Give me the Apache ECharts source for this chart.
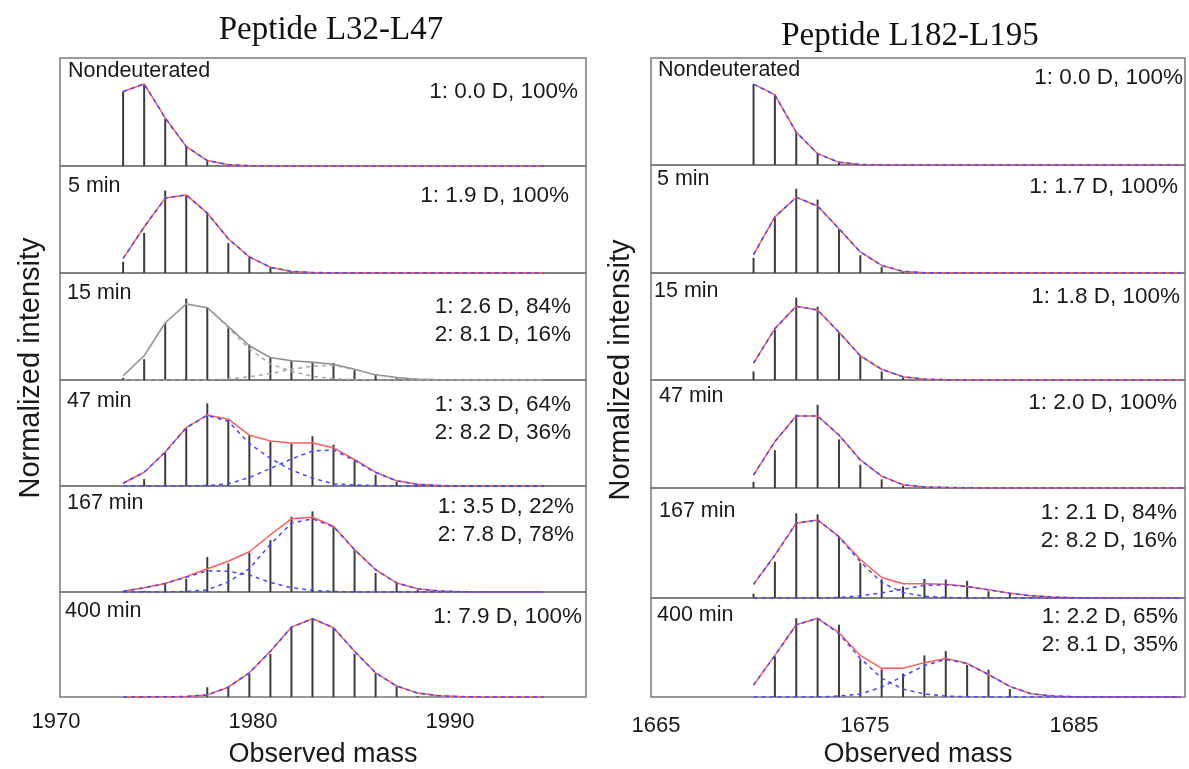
<!DOCTYPE html>
<html>
<head>
<meta charset="utf-8">
<script src="https://cdn.jsdelivr.net/npm/echarts@6/dist/echarts.min.js"></script>
<style>
html,body{margin:0;padding:0;background:#fff;}
#chart{width:1189px;height:769px;}
</style>
</head>
<body>
<div id="chart"></div>
<script>
// ---------------- DATA ----------------
const leftTitle = 'Peptide L32-L47';
const rightTitle = 'Peptide L182-L195';
const xAxisName = 'Observed mass';
const yAxisName = 'Normalized intensity';

const leftMass  = [1974,1975,1976,1977,1978,1979,1980,1981,1982,1983,1984,1985,1986,1987,1988,1989,1990,1991,1992,1993,1994];
const rightMass = [1670,1671,1672,1673,1674,1675,1676,1677,1678,1679,1680,1681,1682,1683,1684,1685,1686,1687,1688,1689,1690];
const leftTicks  = [1970, 1980, 1990];
const rightTicks = [1665, 1675, 1685];

const leftLabels  = ['Nondeuterated', '5 min', '15 min', '47 min', '167 min', '400 min'];
const rightLabels = ['Nondeuterated', '5 min', '15 min', '47 min', '167 min', '400 min'];
const leftFitText = [
  ['1: 0.0 D, 100%'],
  ['1: 1.9 D, 100%'],
  ['1: 2.6 D, 84%', '2: 8.1 D, 16%'],
  ['1: 3.3 D, 64%', '2: 8.2 D, 36%'],
  ['1: 3.5 D, 22%', '2: 7.8 D, 78%'],
  ['1: 7.9 D, 100%']
];
const rightFitText = [
  ['1: 0.0 D, 100%'],
  ['1: 1.7 D, 100%'],
  ['1: 1.8 D, 100%'],
  ['1: 2.0 D, 100%'],
  ['1: 2.1 D, 84%', '2: 8.2 D, 16%'],
  ['1: 2.2 D, 65%', '2: 8.1 D, 35%']
];

// Left peptide (L32-L47): measured sticks and fits
const L0_bars = [69, 76, 44, 18, 5, 1, 0, 0, 0, 0, 0, 0, 0, 0, 0, 0, 0, 0, 0, 0, 0];
const L0_fit  = [69, 76, 44.5, 18, 5, 1.2, 0.3, 0.1, 0, 0, 0, 0, 0, 0, 0, 0, 0, 0, 0, 0, 0];

const L1_bars = [10.5, 37.5, 77, 73, 56, 28, 16, 5, 1.5, 0.5, 0, 0, 0, 0, 0, 0, 0, 0, 0, 0, 0];
const L1_fit  = [13.6, 43, 70, 73, 56, 32, 15, 5.4, 1.5, 0.5, 0.2, 0, 0, 0, 0, 0, 0, 0, 0, 0, 0];

const L2_bars  = [2, 19.5, 53.5, 76, 67.5, 50, 33, 21, 18, 17, 15.7, 9.4, 4.7, 2.5, 0.8, 0, 0, 0, 0, 0, 0];
const L2_fit   = [4, 22.6, 53.5, 71, 67.6, 50, 32, 21, 18, 16.5, 14.8, 10, 4.8, 2.3, 0.8, 0.2, 0, 0, 0, 0, 0];
const L2_comp1 = [4, 22.6, 53.5, 71, 67.6, 49, 29, 15, 8, 3.5, 1.2, 0.3, 0.1, 0, 0, 0, 0, 0, 0, 0, 0];
const L2_comp2 = [0, 0, 0, 0, 0, 1, 3, 6, 10, 13, 13.6, 9.7, 4.7, 2.3, 0.8, 0.2, 0, 0, 0, 0, 0];

const L3_bars  = [0, 6.5, 32, 55, 78, 63, 48, 42, 40, 47, 39, 24, 10.6, 4, 1.6, 0.5, 0, 0, 0, 0, 0];
const L3_fit   = [2.6, 13, 32, 55, 67, 63, 48, 42.5, 40.5, 40.5, 36, 25, 13, 5, 1.6, 0.5, 0.1, 0, 0, 0, 0];
const L3_comp1 = [2.6, 13, 32, 55, 66.5, 61, 40, 26, 15, 7.5, 2, 1, 0.3, 0.1, 0, 0, 0, 0, 0, 0, 0];
const L3_comp2 = [0, 0, 0, 0, 0.5, 2, 8, 16.5, 25.5, 33, 34, 24, 12.7, 4.9, 1.6, 0.5, 0.1, 0, 0, 0, 0];

const L4_bars  = [0, 1, 8.5, 12.5, 33, 27, 37, 49, 71, 76, 62, 40, 18, 8.5, 2, 0.5, 0, 0, 0, 0, 0];
const L4_fit   = [0.6, 4, 8, 14.5, 22, 29, 38, 54, 69, 70.5, 62, 40, 21, 8.5, 3, 1, 0.3, 0, 0, 0, 0];
const L4_comp1 = [0.6, 4, 8, 14, 20, 19.5, 16, 9, 4, 1.5, 0.5, 0.1, 0, 0, 0, 0, 0, 0, 0, 0, 0];
const L4_comp2 = [0, 0, 0, 0.5, 2, 9.5, 22, 45, 65, 69, 61.5, 40, 21, 8.5, 3, 1, 0.3, 0, 0, 0, 0];

const L5_bars = [0, 0.3, 0.5, 0.5, 9.3, 10, 22, 41, 67, 75, 66, 41, 23, 10.5, 1, 0, 0, 0, 0, 0, 0];
const L5_fit  = [0, 0.1, 0.2, 0.5, 2, 9.3, 23, 43.5, 66.5, 74.5, 66, 43.5, 23, 10.5, 3.7, 1.2, 0.4, 0.1, 0, 0, 0];

// Right peptide (L182-L195)
const R0_bars = [75.6, 65.6, 30.6, 10.6, 2.5, 0.5, 0, 0, 0, 0, 0, 0, 0, 0, 0, 0, 0, 0, 0, 0, 0];
const R0_fit  = [75.6, 65.6, 30.6, 10.6, 2.5, 0.5, 0.1, 0, 0, 0, 0, 0, 0, 0, 0, 0, 0, 0, 0, 0, 0];

const R1_bars = [14, 51, 78, 68, 41, 16.5, 5.5, 1.5, 0.3, 0, 0, 0, 0, 0, 0, 0, 0, 0, 0, 0, 0];
const R1_fit  = [17, 52, 70, 62, 41, 19.5, 7, 1.5, 0.3, 0.1, 0, 0, 0, 0, 0, 0, 0, 0, 0, 0, 0];

const R2_bars = [8, 47, 77, 68.5, 44.6, 22.6, 8, 2.5, 0.8, 0.3, 0, 0, 0, 0, 0, 0, 0, 0, 0, 0, 0];
const R2_fit  = [15.7, 48, 69, 65.4, 44.6, 22.6, 10, 3, 0.8, 0.3, 0.1, 0, 0, 0, 0, 0, 0, 0, 0, 0, 0];

const R3_bars = [5.7, 35, 68, 77, 45, 21.6, 8, 2.5, 1.6, 1.2, 0.8, 0.3, 0, 0, 0, 0, 0, 0, 0, 0, 0];
const R3_fit  = [12, 43, 66.7, 66.7, 49, 26, 11, 3, 1, 0.5, 0.2, 0, 0, 0, 0, 0, 0, 0, 0, 0, 0];

const R4_bars  = [4, 33, 77, 76, 56, 32, 17, 10.5, 17.4, 16.8, 15.5, 6.2, 3.7, 0, 0, 0, 0, 0, 0, 0, 0];
const R4_fit   = [12.4, 39, 68, 71, 56, 35, 18.6, 13, 13, 12.4, 10.5, 7.5, 4.3, 2, 0.8, 0.3, 0.1, 0, 0, 0, 0];
const R4_comp1 = [12.4, 39, 68, 71, 55.5, 33, 14, 5, 1.5, 0.4, 0.1, 0, 0, 0, 0, 0, 0, 0, 0, 0, 0];
const R4_comp2 = [0, 0, 0, 0, 0.5, 2, 4.6, 8, 11.5, 12, 10.4, 7.5, 4.3, 2, 0.8, 0.3, 0.1, 0, 0, 0, 0];

const R5_bars  = [0, 41, 79.5, 79.5, 73, 38, 28, 23.7, 42, 46.4, 32.5, 27.6, 8, 0.5, 0, 0, 0, 0, 0, 0, 0];
const R5_fit   = [12, 42, 73, 79.5, 65, 42, 29, 29, 34.7, 39, 34, 22.7, 10.7, 3.2, 1, 0.3, 0, 0, 0, 0, 0];
const R5_comp1 = [12, 42, 73, 79.5, 64, 39, 19, 8, 3, 1, 0.3, 0, 0, 0, 0, 0, 0, 0, 0, 0, 0];
const R5_comp2 = [0, 0, 0, 0, 1, 3, 10, 21, 31.7, 38, 33.7, 22.7, 10.7, 3.2, 1, 0.3, 0, 0, 0, 0, 0];

// ---------------- LAYOUT ----------------
const leftBounds  = [58, 166, 273, 380, 486, 592, 700];
const rightBounds = [58, 165, 273, 380, 488, 598, 702];
const leftBox  = {left: 60, width: 526, min: 1971, max: 1996};
const rightBox = {left: 651, width: 534, min: 1665.2, max: 1690.2};
const leftLabelPos  = {x: [68, 68, 67, 67, 67, 65], y: [72, 187, 294, 402, 504, 612]};
const leftFitPos    = {x: [578, 569, 571, 571, 574, 582], y: [91, 195, 306, 404, 506, 616]};
const rightLabelPos = {x: [658, 657, 654, 659, 659, 657], y: [71, 180, 292, 397, 512, 616]};
const rightFitPos   = {x: [1183, 1178, 1180, 1177, 1177, 1178], y: [77, 186, 296, 402, 512, 616]};

const RED = '#ff5c5c', BLUE = '#4646ff', GRAY = '#8a8a8a', STICK = '#3c3c3c';
const SANS = 'Liberation Sans, Arial, sans-serif';

const leftPanels = [
  {bars: L0_bars, total: L0_fit, comps: [L0_fit]},
  {bars: L1_bars, total: L1_fit, comps: [L1_fit]},
  {bars: L2_bars, total: L2_fit, comps: [L2_comp1, L2_comp2], gray: true},
  {bars: L3_bars, total: L3_fit, comps: [L3_comp1, L3_comp2]},
  {bars: L4_bars, total: L4_fit, comps: [L4_comp1, L4_comp2]},
  {bars: L5_bars, total: L5_fit, comps: [L5_fit]}
];
const rightPanels = [
  {bars: R0_bars, total: R0_fit, comps: [R0_fit]},
  {bars: R1_bars, total: R1_fit, comps: [R1_fit]},
  {bars: R2_bars, total: R2_fit, comps: [R2_fit]},
  {bars: R3_bars, total: R3_fit, comps: [R3_fit]},
  {bars: R4_bars, total: R4_fit, comps: [R4_comp1, R4_comp2]},
  {bars: R5_bars, total: R5_fit, comps: [R5_comp1, R5_comp2]}
];

const pairs = (mass, arr) => mass.map((m, i) => [m, arr[i]]);

const grid = [], xAxis = [], yAxis = [], series = [], graphic = [];

function addSide(panels, bounds, box, mass, labels, labelPos, fitText, fitPos) {
  panels.forEach((p, i) => {
    const gi = grid.length;
    const isBottom = i === panels.length - 1;
    grid.push({
      left: box.left, width: box.width,
      top: bounds[i], height: bounds[i + 1] - bounds[i],
      show: true, borderColor: '#7a7a7a', borderWidth: 1.5, backgroundColor: 'transparent'
    });
    xAxis.push({
      type: 'value', gridIndex: gi, min: box.min, max: box.max,
      axisLine: {show: false}, axisTick: {show: false}, axisLabel: {show: false}, splitLine: {show: false},
      name: isBottom ? xAxisName : '', nameLocation: 'middle', nameGap: 44,
      nameTextStyle: {fontFamily: SANS, fontSize: 27, color: '#1a1a1a'}
    });
    yAxis.push({
      type: 'value', gridIndex: gi, min: 0, max: 100, show: false
    });
    series.push({
      type: 'bar', xAxisIndex: gi, yAxisIndex: gi, barWidth: 2,
      itemStyle: {color: STICK}, data: pairs(mass, p.bars), z: 2, silent: true
    });
    series.push({
      type: 'line', xAxisIndex: gi, yAxisIndex: gi, symbol: 'none',
      lineStyle: {color: p.gray ? GRAY : RED, width: 1.5}, data: pairs(mass, p.total), z: 3, silent: true
    });
    p.comps.forEach(c => {
      series.push({
        type: 'line', xAxisIndex: gi, yAxisIndex: gi, symbol: 'none',
        lineStyle: {color: p.gray ? '#a6a6a6' : BLUE, width: 1.5, type: [4, 4]},
        data: pairs(mass, c), z: 4, silent: true
      });
    });
    graphic.push({
      type: 'text', left: labelPos.x[i], top: labelPos.y[i] - 12,
      style: {text: labels[i], font: '21.5px ' + SANS, fill: '#1a1a1a'}
    });
    graphic.push({
      type: 'text', right: 1189 - fitPos.x[i], top: fitPos.y[i] - 13,
      style: {text: fitText[i].join('\n'), font: '22.5px ' + SANS, fill: '#1a1a1a', textAlign: 'right', lineHeight: 28}
    });
  });
}

addSide(leftPanels, leftBounds, leftBox, leftMass, leftLabels, leftLabelPos, leftFitText, leftFitPos);
addSide(rightPanels, rightBounds, rightBox, rightMass, rightLabels, rightLabelPos, rightFitText, rightFitPos);

// label-only axes under each column (tick labels placed as in the figure)
function addLabelAxis(ticks, left, width, top) {
  const gi = grid.length;
  grid.push({left: left, width: width, top: top - 1, height: 1, show: false});
  xAxis.push({
    type: 'value', gridIndex: gi, min: ticks[0], max: ticks[ticks.length - 1], interval: ticks[1] - ticks[0],
    axisLine: {show: false}, axisTick: {show: false}, splitLine: {show: false},
    axisLabel: {show: true, margin: 11, fontFamily: SANS, fontSize: 22, color: '#1a1a1a',
      formatter: v => String(v)}
  });
  yAxis.push({type: 'value', gridIndex: gi, show: false});
}
addLabelAxis(leftTicks, 56, 394, 700);
addLabelAxis(rightTicks, 656, 418, 704);

// titles and y names
const SERIF = 'Liberation Serif, Times New Roman, serif';
graphic.push({type: 'text', x: 331, y: 30, style: {text: leftTitle, font: '33px ' + SERIF, fill: '#111', textAlign: 'center', textVerticalAlign: 'middle'}});
graphic.push({type: 'text', x: 910, y: 36, style: {text: rightTitle, font: '33px ' + SERIF, fill: '#111', textAlign: 'center', textVerticalAlign: 'middle'}});
graphic.push({type: 'text', x: 31, y: 368, rotation: Math.PI / 2, style: {text: yAxisName, font: '29px ' + SANS, fill: '#1a1a1a', textAlign: 'center', textVerticalAlign: 'middle'}});
graphic.push({type: 'text', x: 621, y: 370, rotation: Math.PI / 2, style: {text: yAxisName, font: '29px ' + SANS, fill: '#1a1a1a', textAlign: 'center', textVerticalAlign: 'middle'}});

const chart = echarts.init(document.getElementById('chart'), null, {renderer: 'canvas'});
chart.setOption({
  animation: false,
  backgroundColor: '#ffffff',
  grid, xAxis, yAxis, series, graphic
});
</script>
</body>
</html>
